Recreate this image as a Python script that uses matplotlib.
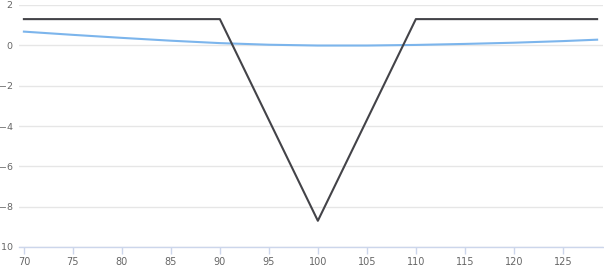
import matplotlib
matplotlib.use("Agg")
import matplotlib.pyplot as plt

# Payoff at expiry (black)
payoff_x = [70, 90, 100, 110, 128.5]
payoff_y = [1.3, 1.3, -8.7, 1.3, 1.3]

# Current value curve (blue)
curve_x = [70, 75, 80, 85, 90, 95, 100, 105, 110, 115, 120, 125, 128.5]
curve_y = [0.68, 0.52, 0.37, 0.23, 0.11, 0.03, -0.01, -0.01, 0.02, 0.07, 0.13, 0.21, 0.28]

x_ticks = [70, 75, 80, 85, 90, 95, 100, 105, 110, 115, 120, 125]
y_ticks = [-10, -8, -6, -4, -2, 0, 2]

fig = plt.figure(figsize=(6.04, 2.70), dpi=100)
ax = fig.add_axes([19/604, 23/270, 584/604, 242/270])

ax.plot(curve_x, curve_y, color="#7cb5ec", lw=1.5, zorder=3)
ax.plot(payoff_x, payoff_y, color="#434348", lw=1.5, zorder=4)

ax.set_xlim(69.5, 129.1)
ax.set_ylim(-10, 2)
ax.set_xticks(x_ticks)
ax.set_yticks(y_ticks)
ax.set_yticklabels([f"{v}".replace("-", "\u2212") for v in y_ticks])

ax.grid(axis="y", color="#e6e6e6", lw=1)
ax.set_axisbelow(True)
for s in ["top", "right", "left"]:
    ax.spines[s].set_visible(False)
ax.spines["bottom"].set_color("#ccd6eb")
ax.spines["bottom"].set_linewidth(1)
ax.tick_params(axis="x", colors="#ccd6eb", length=5, width=1, labelcolor="#666666", labelsize=7, pad=2)
ax.tick_params(axis="y", length=0, labelcolor="#666666", labelsize=6.8, pad=4.5)

fig.savefig("out.png", dpi=100, facecolor="white")
